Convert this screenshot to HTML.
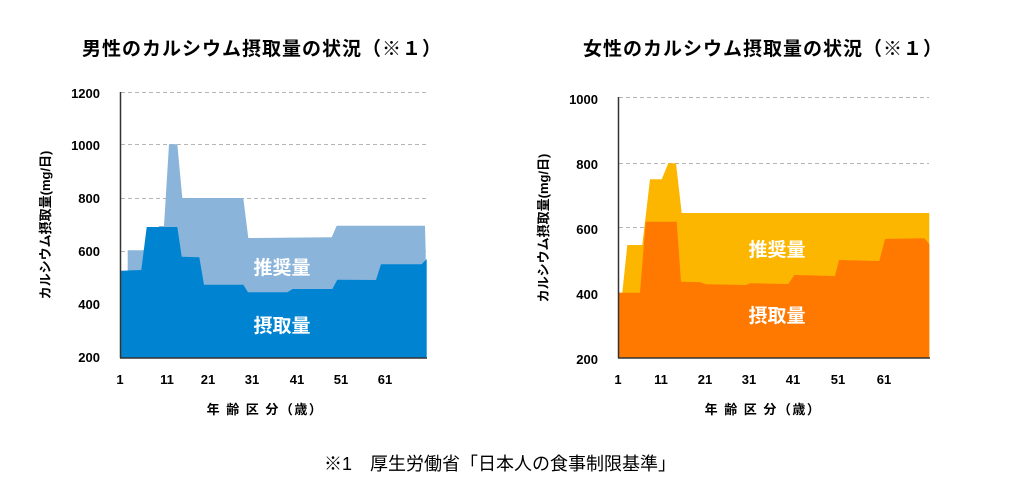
<!DOCTYPE html>
<html><head><meta charset="utf-8"><style>
body{margin:0;background:#fff;}
svg text{font-family:"Liberation Sans","Noto Sans CJK JP",sans-serif;}
</style></head><body>
<svg width="1014" height="475" viewBox="0 0 1014 475" xmlns="http://www.w3.org/2000/svg">
<rect width="1014" height="475" fill="#fff"/>
<!-- Left chart -->
<text x="262" y="55" font-size="19" font-weight="bold" letter-spacing="1" text-anchor="middle" fill="#000">男性のカルシウム摂取量の状況（※１）</text>
<g stroke="#b5b5b5" stroke-dasharray="4,3" stroke-width="1">
<line x1="121" y1="92.5" x2="427" y2="92.5"/><line x1="121" y1="144.5" x2="427" y2="144.5"/><line x1="121" y1="198.5" x2="427" y2="198.5"/><line x1="121" y1="251.5" x2="427" y2="251.5"/>
</g>
<polygon fill="#8ab4da" points="127.7,270.7 127.7,250.3 143.3,250.3 159.3,226 164,226 169,144.3 177.3,144.3 182.3,198 243.3,198 248.3,238 331.7,237.3 336.7,225.7 425,225.7 425.7,251.7 425.7,358 127.7,358"/>
<polygon fill="#0084d1" points="120.7,270.7 141.3,270 146.7,227 177.3,227 181.7,256.7 199.3,257.3 204,284.7 243.3,284.7 248,292.3 287.3,292.3 292.7,289 332.3,289 337.3,279.7 376,280 381,264.3 421.7,264.3 426.7,259 426.7,358 120.7,358"/>
<line x1="120.5" y1="92" x2="120.5" y2="358" stroke="#333" stroke-width="1.5"/>
<line x1="120" y1="358" x2="427" y2="358" stroke="#333" stroke-width="1.5"/>
<text x="282" y="274" font-size="19" font-weight="bold" fill="#fff" text-anchor="middle">推奨量</text>
<text x="282" y="332" font-size="19" font-weight="bold" fill="#fff" text-anchor="middle">摂取量</text>
<g font-size="13" font-weight="bold" text-anchor="end" fill="#000">
<text x="100" y="98">1200</text><text x="100" y="150">1000</text><text x="100" y="203">800</text><text x="100" y="256">600</text><text x="100" y="309">400</text><text x="100" y="362">200</text>
</g>
<g font-size="13" font-weight="bold" text-anchor="middle" fill="#000">
<text x="120" y="384">1</text><text x="167" y="384">11</text><text x="208" y="384">21</text><text x="252" y="384">31</text><text x="297" y="384">41</text><text x="341" y="384">51</text><text x="385" y="384">61</text>
</g>
<text x="265" y="414" font-size="13" font-weight="bold" letter-spacing="1.5" text-anchor="middle">年 齢 区 分（歳）</text>
<text transform="translate(50,225) rotate(-90)" font-size="13" font-weight="bold" text-anchor="middle">カルシウム摂取量(mg/日)</text>

<!-- Right chart -->
<text x="763" y="55" font-size="19" font-weight="bold" letter-spacing="1" text-anchor="middle" fill="#000">女性のカルシウム摂取量の状況（※１）</text>
<g stroke="#b5b5b5" stroke-dasharray="4,3" stroke-width="1">
<line x1="619" y1="97.5" x2="929" y2="97.5"/><line x1="619" y1="163.5" x2="929" y2="163.5"/><line x1="619" y1="227.5" x2="929" y2="227.5"/>
</g>
<polygon fill="#fdb600" points="618.3,292.7 622.3,292.7 627.3,245 642.3,245 650,179.3 661.7,179.3 668.3,163.3 676,163.3 681.7,213 929.3,213 929.3,358 618.3,358"/>
<polygon fill="#ff7800" points="618.3,292.7 640,292.7 645.7,221.7 676.7,221.7 681,281.7 700,282.3 706,284.3 746,285 750,283.3 788.3,284 794.3,275 835,276 839,260 879.3,261 885,239 924.3,238.3 929.3,244.3 929.3,358 618.3,358"/>
<line x1="618.5" y1="97" x2="618.5" y2="358" stroke="#333" stroke-width="1.5"/>
<line x1="618" y1="358" x2="930" y2="358" stroke="#333" stroke-width="1.5"/>
<text x="777" y="256" font-size="19" font-weight="bold" fill="#fff" text-anchor="middle">推奨量</text>
<text x="777" y="322" font-size="19" font-weight="bold" fill="#fff" text-anchor="middle">摂取量</text>
<g font-size="13" font-weight="bold" text-anchor="end" fill="#000">
<text x="598" y="104">1000</text><text x="598" y="169">800</text><text x="598" y="234">600</text><text x="598" y="299">400</text><text x="598" y="364">200</text>
</g>
<g font-size="13" font-weight="bold" text-anchor="middle" fill="#000">
<text x="618" y="384">1</text><text x="661" y="384">11</text><text x="705" y="384">21</text><text x="749" y="384">31</text><text x="793" y="384">41</text><text x="838" y="384">51</text><text x="884" y="384">61</text>
</g>
<text x="763" y="414" font-size="13" font-weight="bold" letter-spacing="1.5" text-anchor="middle">年 齢 区 分（歳）</text>
<text transform="translate(548,228) rotate(-90)" font-size="13" font-weight="bold" text-anchor="middle">カルシウム摂取量(mg/日)</text>

<text x="500" y="470" font-size="18" text-anchor="middle" fill="#000">※1　厚生労働省「日本人の食事制限基準」</text>
</svg>
</body></html>
